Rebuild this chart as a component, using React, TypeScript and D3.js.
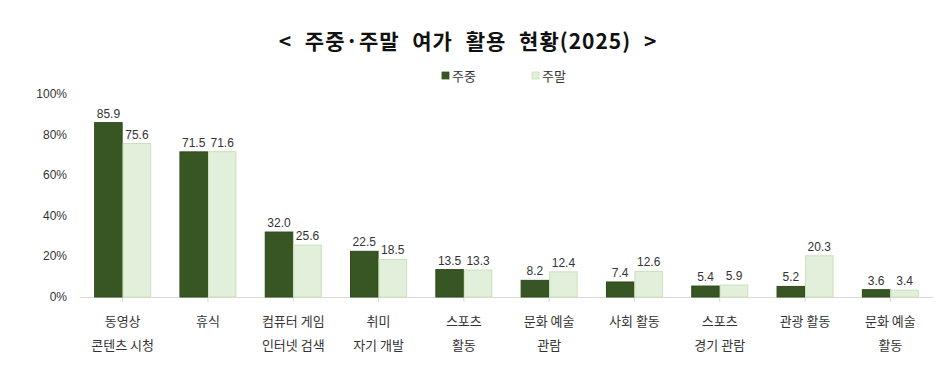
import React, { useRef, useEffect } from 'react';
import * as d3 from 'd3';

const WIDTH = 946;
const HEIGHT = 367;

const categories = [
  ['동영상', '콘텐츠 시청'],
  ['휴식'],
  ['컴퓨터 게임', '인터넷 검색'],
  ['취미', '자기 개발'],
  ['스포츠', '활동'],
  ['문화 예술', '관람'],
  ['사회 활동'],
  ['스포츠', '경기 관람'],
  ['관광 활동'],
  ['문화 예술', '활동'],
];
const weekday = [85.9, 71.5, 32.0, 22.5, 13.5, 8.2, 7.4, 5.4, 5.2, 3.6];
const weekend = [75.6, 71.6, 25.6, 18.5, 13.3, 12.4, 12.6, 5.9, 20.3, 3.4];
const seriesNames = ['주중', '주말'];
const yTicks = [0, 20, 40, 60, 80, 100];

const DARK = '#375623';
const LIGHT = '#E2EFDA';
const LIGHT_STROKE = '#C9E2B8';
const FONT = "'Liberation Sans', Arial, sans-serif";
const KFONT = "'Noto Sans CJK KR', 'Noto Sans', sans-serif";

export default function App() {
  const svgRef = useRef<SVGSVGElement>(null);

  useEffect(() => {
    if (!svgRef.current) return;
    const svg = d3.select(svgRef.current);
    svg.selectAll('*').remove();

    const left = 80;
    const right = 933;
    const top = 94;
    const bottom = 297;

    const x = d3.scaleBand<number>().domain(d3.range(categories.length)).range([left, right]);
    const y = d3.scaleLinear().domain([0, 100]).range([bottom, top]);
    const barW = 28.5;

    // title
    svg.append('text')
      .attr('x', 468)
      .attr('y', 49)
      .attr('text-anchor', 'middle')
      .attr('font-family', KFONT)
      .attr('font-weight', 'bold')
      .attr('font-size', '21px')
      .attr('letter-spacing', '1px')
      .attr('word-spacing', '7px')
      .attr('fill', '#111')
      .text('< 주중·주말 여가 활용 현황(2025) >');

    // legend
    const legend = [
      { name: seriesNames[0], fill: DARK, stroke: DARK, x: 442 },
      { name: seriesNames[1], fill: LIGHT, stroke: LIGHT_STROKE, x: 532 },
    ];
    legend.forEach((l) => {
      svg.append('rect')
        .attr('x', l.x)
        .attr('y', 72)
        .attr('width', 7)
        .attr('height', 7)
        .attr('fill', l.fill)
        .attr('stroke', l.stroke)
        .attr('stroke-width', 0.8);
      svg.append('text')
        .attr('x', l.x + 10)
        .attr('y', 81)
        .attr('font-family', KFONT)
        .attr('font-size', '13px')
        .attr('fill', '#333')
        .text(l.name);
    });

    // y ticks
    yTicks.forEach((t) => {
      svg.append('text')
        .attr('x', 67)
        .attr('y', y(t) + 4)
        .attr('text-anchor', 'end')
        .attr('font-family', FONT)
        .attr('font-size', '12px')
        .attr('fill', '#333')
        .text(`${t}%`);
    });

    // axis line
    svg.append('line')
      .attr('x1', left)
      .attr('x2', right)
      .attr('y1', bottom + 0.5)
      .attr('y2', bottom + 0.5)
      .attr('stroke', '#D9D9D9')
      .attr('stroke-width', 1);

    categories.forEach((cat, i) => {
      const cx = (x(i) ?? 0) + x.bandwidth() / 2;
      // tick
      svg.append('line')
        .attr('x1', cx)
        .attr('x2', cx)
        .attr('y1', bottom)
        .attr('y2', bottom + 5)
        .attr('stroke', '#D9D9D9');

      const vals = [weekday[i], weekend[i]];
      vals.forEach((v, j) => {
        const bx = cx - barW + j * barW;
        svg.append('rect')
          .attr('x', bx + 0.5)
          .attr('y', y(v))
          .attr('width', barW - 1)
          .attr('height', bottom - y(v))
          .attr('fill', j === 0 ? DARK : LIGHT)
          .attr('stroke', j === 0 ? '#2E4A1C' : LIGHT_STROKE)
          .attr('stroke-width', 1);
        svg.append('text')
          .attr('x', bx + barW / 2)
          .attr('y', y(v) - 5)
          .attr('text-anchor', 'middle')
          .attr('font-family', FONT)
          .attr('font-size', '12px')
          .attr('fill', '#333')
          .text(v.toFixed(1));
      });

      cat.forEach((line, k) => {
        svg.append('text')
          .attr('x', cx)
          .attr('y', 326 + k * 24)
          .attr('text-anchor', 'middle')
          .attr('font-family', KFONT)
          .attr('font-size', '13px')
          .attr('fill', '#333')
          .text(line);
      });
    });
  }, []);

  return (
    <svg
      ref={svgRef}
      width={WIDTH}
      height={HEIGHT}
      viewBox={`0 0 ${WIDTH} ${HEIGHT}`}
      style={{ position: 'absolute', left: 0, top: 0, background: '#fff' }}
    />
  );
}
